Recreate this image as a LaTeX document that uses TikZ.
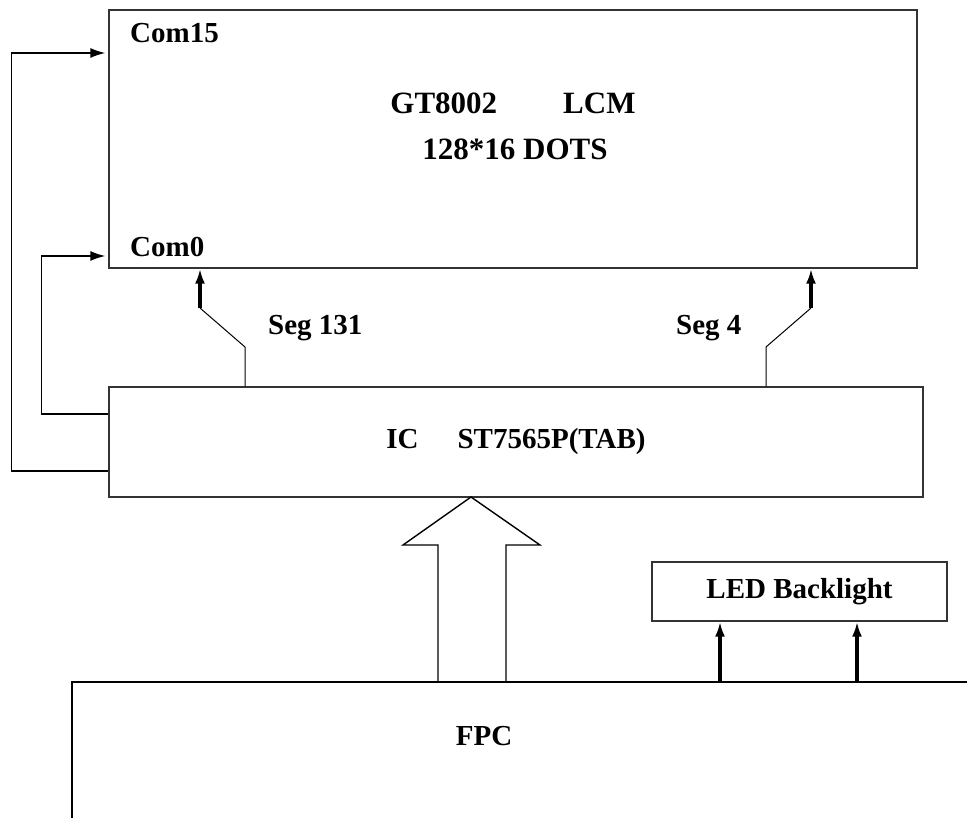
\documentclass[tikz,border=0pt]{standalone}
\usepackage{fontspec}
\setmainfont{Liberation Serif}
\usetikzlibrary{arrows.meta}
\begin{document}
\begin{tikzpicture}[x=1pt,y=-1pt,>={Latex[length=15pt,width=10pt]}, font=\fontsize{29}{34}\selectfont\bfseries, line join=miter,
    box/.style={draw=black!80,line width=1.4pt,rectangle,inner sep=0pt},
    lbl/.style={inner sep=0pt},
    wire/.style={line width=1.4pt},
    fatwire/.style={line width=3.4pt}]
    \useasboundingbox (0,0) rectangle (967,818);
    % boxes
    \node[box,minimum width=808pt,minimum height=258pt] (lcm) at (513,139) {};
    \node[box,minimum width=814pt,minimum height=110pt] (ic) at (516,442) {IC\hspace{39pt}ST7565P(TAB)};
    \node[box,minimum width=295pt,minimum height=59pt] (led) at (799.5,591.5) {LED Backlight};
    \coordinate (fpctop) at (72,682);
    \draw[line width=2pt] (72,818) -- (fpctop) -- (967,682);
    % texts
    \node[lbl,anchor=base west] (com15) at (130,43) {Com15};
    \node[lbl,anchor=base west] (com0) at (130,257) {Com0};
    \node[lbl,anchor=base,font=\fontsize{31}{36}\selectfont\bfseries] (title) at (513,114) {GT8002\hspace{66pt}LCM};
    \node[lbl,anchor=base,font=\fontsize{31}{36}\selectfont\bfseries] (dots) at (515,160) {128*16 DOTS};
    \node[lbl,anchor=base west] (seg131) at (268,335) {Seg 131};
    \node[lbl,anchor=base west] (seg4) at (676,335) {Seg 4};
    \node[lbl,anchor=base] (fpc) at (484,745) {FPC};
    % com lines
    \draw[wire,->,shorten >=3pt] ([yshift=28pt]ic.west) -- ++(-67,0) |- ([yshift=-117pt]lcm.west);
    \draw[wire,->,shorten >=3pt] ([yshift=-29pt]ic.west) -- ++(-97,0) |- ([yshift=86pt]lcm.west);
    % seg lines
    \coordinate (b131) at (200,308); \coordinate (k131) at (245,347);
    \coordinate (b4) at (811,308); \coordinate (k4) at (766,347);
    \draw[wire,line width=1pt] (ic.north -| k131) -- (k131) -- (b131);
    \draw[fatwire,->] (b131) -- (lcm.south -| b131);
    \draw[wire,line width=1pt] (ic.north -| k4) -- (k4) -- (b4);
    \draw[fatwire,->] (b4) -- (lcm.south -| b4);
    % bus arrow
    \draw[line width=1.4pt] (438,682) -- (438,545) -- (403,545) -- (471,497) -- (540,545) -- (506,545) -- (506,682);
    % backlight
    \coordinate (l1) at (720,682); \coordinate (l2) at (857,682);
    \draw[fatwire,->] (l1) -- (l1 |- led.south);
    \draw[fatwire,->] (l2) -- (l2 |- led.south);
\end{tikzpicture}
\end{document}
